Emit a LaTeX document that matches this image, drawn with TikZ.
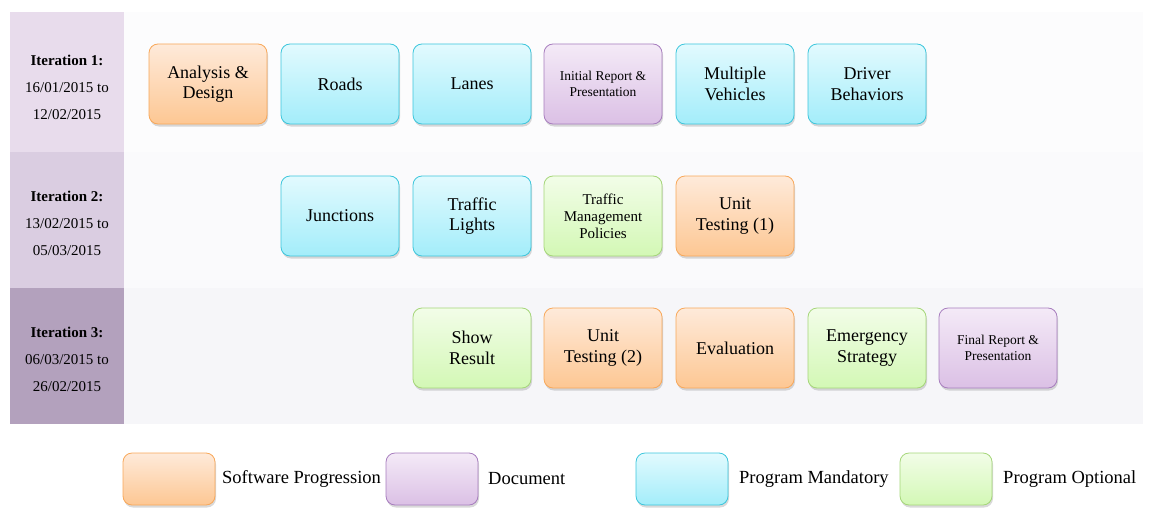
\documentclass[tikz,border=0pt]{standalone}
\usepackage{fontspec}
\setmainfont{Liberation Serif}
\usetikzlibrary{shadows}
\definecolor{itera}{HTML}{E8DCEC}
\definecolor{iterb}{HTML}{DACDE1}
\definecolor{iterc}{HTML}{B3A1BD}
\definecolor{rowa}{HTML}{FCFCFD}
\definecolor{rowb}{HTML}{FAFAFC}
\definecolor{rowc}{HTML}{F6F6F9}
\definecolor{swline}{HTML}{F8A85A}
\definecolor{swtop}{HTML}{FEEADA}
\definecolor{swbot}{HTML}{FDC793}
\definecolor{docline}{HTML}{A77DBE}
\definecolor{doctop}{HTML}{F4EAF7}
\definecolor{docbot}{HTML}{DBC0E5}
\definecolor{manline}{HTML}{3CC6DC}
\definecolor{mantop}{HTML}{E2FAFE}
\definecolor{manbot}{HTML}{A3EDFA}
\definecolor{optline}{HTML}{A5D679}
\definecolor{opttop}{HTML}{F2FDE8}
\definecolor{optbot}{HTML}{D3F8B5}

\begin{document}
\begin{tikzpicture}[x=1pt,y=-1pt,
  task/.style={rounded corners=9pt,line width=0.8pt,align=center,
    minimum width=118pt,minimum height=80pt,inner sep=2pt,
    font=\fontsize{18}{20.5}\selectfont,
    drop shadow={opacity=0.3,shadow xshift=1pt,shadow yshift=-2.5pt}},
  swprog/.style={task,draw=swline,top color=swtop,bottom color=swbot},
  docu/.style={task,draw=docline,top color=doctop,bottom color=docbot,font=\fontsize{13.5}{15.5}\selectfont},
  mand/.style={task,draw=manline,top color=mantop,bottom color=manbot},
  opt/.style={task,draw=optline,top color=opttop,bottom color=optbot},
  legbox/.style={minimum width=92pt,minimum height=52pt},
  legtxt/.style={anchor=west,font=\fontsize{18.5}{20}\selectfont,inner sep=0pt},
  iter/.style={align=center,font=\fontsize{15}{27}\selectfont}]
  \useasboundingbox (0,0) rectangle (1155,519);
  % iteration bands
  \fill[rowa] (124,12) rectangle (1143,152);
  \fill[rowb] (124,152) rectangle (1143,288);
  \fill[rowc] (124,288) rectangle (1143,424);
  \fill[itera] (10,12) rectangle (124,152);
  \fill[iterb] (10,152) rectangle (124,288);
  \fill[iterc] (10,288) rectangle (124,424);
  \node[iter] (it1) at (67,87) {\textbf{Iteration 1:}\\16/01/2015 to\\12/02/2015};
  \node[iter] (it2) at (67,223) {\textbf{Iteration 2:}\\13/02/2015 to\\05/03/2015};
  \node[iter] (it3) at (67,359) {\textbf{Iteration 3:}\\06/03/2015 to\\26/02/2015};
  % iteration 1
  \node[swprog] (anal) at (208,84) {Analysis \&\\Design};
  \node[mand] (roads) at (340,84) {Roads};
  \node[mand] (lanes) at (472,84) {Lanes};
  \node[docu] (initrep) at (603,84) {Initial Report \&\\Presentation};
  \node[mand] (vehic) at (735,84) {Multiple\\Vehicles};
  \node[mand] (driver) at (867,84) {Driver\\Behaviors};
  % iteration 2
  \node[mand] (junc) at (340,216) {Junctions};
  \node[mand] (lights) at (472,216) {Traffic\\Lights};
  \node[opt,font=\fontsize{15}{17}\selectfont] (policy) at (603,216) {Traffic\\Management\\Policies};
  \node[swprog] (unitone) at (735,216) {Unit\\Testing (1)};
  % iteration 3
  \node[opt] (result) at (472,348) {Show\\Result};
  \node[swprog] (unittwo) at (603,348) {Unit\\Testing (2)};
  \node[swprog] (eval) at (735,348) {Evaluation};
  \node[opt] (emerg) at (867,348) {Emergency\\Strategy};
  \node[docu] (finrep) at (998,348) {Final Report \&\\Presentation};
  % legend
  \node[swprog,legbox] (legsw) at (169,479) {};
  \node[legtxt] (legswt) at (222,479) {Software Progression};
  \node[docu,legbox] (legdoc) at (432,479) {};
  \node[legtxt] (legdoct) at (488,479) {Document};
  \node[mand,legbox] (legman) at (682,479) {};
  \node[legtxt] (legmant) at (739,479) {Program Mandatory};
  \node[opt,legbox] (legopt) at (946,479) {};
  \node[legtxt] (legoptt) at (1003,479) {Program Optional};
\end{tikzpicture}
\end{document}
